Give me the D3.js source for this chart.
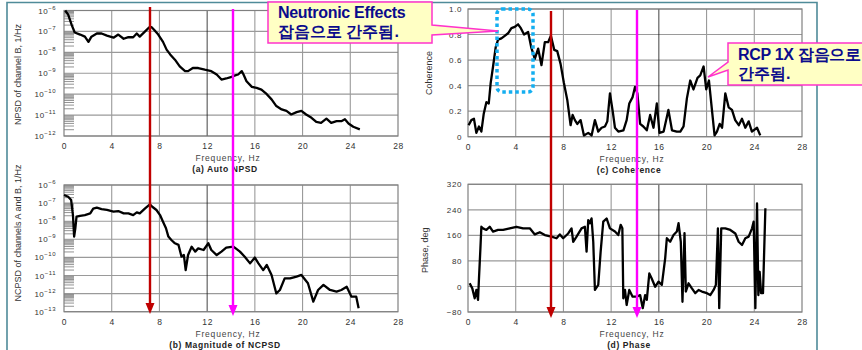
<!DOCTYPE html>
<html>
<head>
<meta charset="utf-8">
<script src="https://cdn.jsdelivr.net/npm/d3@7"></script>
<style>
body { margin: 0; background: #fff; }
svg { display: block; }
text { font-family: "Liberation Sans", Arial, sans-serif; }
</style>
</head>
<body>
<svg id="chart" width="862" height="350"></svg>
<script>
// ---- DATA ---------------------------------------------------------

const freqTicks = [0, 4, 8, 12, 16, 20, 24, 28];

// (a) Auto NPSD of channel B, log10(1/Hz)
const aFreq = [0.1,0.35,0.65,0.9,1.35,1.75,2.05,2.3,2.75,3.15,3.6,4.15,4.55,5.0,5.4,5.8,6.1,6.35,6.8,7.15,7.35,7.55,7.9,8.3,8.6,8.9,9.3,9.7,10.15,10.4,10.8,11.25,11.8,12.35,12.8,13.2,13.6,14.05,14.35,14.6,14.9,15.05,15.3,15.75,16.15,16.55,17.0,17.4,17.8,18.25,18.65,19.05,19.5,19.9,20.3,20.75,21.15,21.55,22.0,22.4,22.85,23.25,23.55,23.85,24.25,24.8];
const aLogNpsd = [-6.0,-6.2,-6.7,-7.05,-7.15,-7.25,-7.5,-7.25,-7.1,-7.1,-7.2,-7.3,-7.15,-7.35,-7.27,-7.28,-7.1,-7.25,-7.0,-6.8,-6.8,-6.92,-7.15,-7.5,-7.87,-8.1,-8.35,-8.67,-8.9,-8.9,-8.75,-8.75,-8.83,-8.9,-9.06,-9.3,-9.25,-9.17,-9.1,-9.06,-8.9,-9.06,-9.38,-9.65,-9.7,-9.78,-10.0,-10.25,-10.57,-10.73,-10.8,-10.97,-10.86,-10.8,-10.97,-11.13,-11.33,-11.37,-11.17,-11.37,-11.29,-11.29,-11.2,-11.4,-11.56,-11.68];

// (b) Magnitude of NCPSD of channels A and B, log10(1/Hz)
const bFreq = [0.0,0.35,0.6,0.75,0.85,0.95,1.05,1.35,1.75,2.2,2.45,2.75,3.15,3.6,4.15,4.55,5.0,5.4,5.8,6.1,6.35,6.8,7.2,7.4,7.75,8.05,8.3,8.55,8.75,9.0,9.3,9.6,9.85,10.05,10.2,10.4,10.7,11.0,11.25,11.7,12.1,12.35,12.8,13.2,13.6,14.2,14.45,14.75,15.15,15.6,16.0,16.3,16.7,17.0,17.4,17.8,18.1,18.5,18.95,19.5,19.9,20.45,20.9,21.3,21.75,22.3,22.85,23.25,23.7,24.1,24.5,24.7];
const bLogNcpsd = [-6.55,-6.65,-6.83,-7.66,-8.85,-8.4,-7.75,-7.7,-7.66,-7.57,-7.3,-7.25,-7.33,-7.38,-7.47,-7.44,-7.57,-7.57,-7.66,-7.51,-7.57,-7.29,-7.07,-7.2,-7.38,-7.66,-8.03,-8.39,-8.85,-9.04,-9.22,-9.31,-9.96,-9.87,-10.7,-9.87,-9.41,-9.68,-9.5,-9.59,-9.22,-9.59,-9.87,-9.68,-9.46,-9.41,-9.53,-9.68,-9.96,-10.33,-10.01,-10.33,-10.7,-10.42,-10.97,-11.99,-11.8,-11.16,-11.16,-11.06,-10.97,-11.43,-12.44,-11.8,-11.52,-11.8,-11.89,-11.8,-11.62,-12.17,-12.17,-12.81];

// (c) Coherence
const cFreq = [0.05,0.28,0.5,0.7,0.92,1.12,1.32,1.54,1.74,1.9,2.1,2.32,2.52,2.8,3.08,3.36,3.64,3.92,4.2,4.43,4.7,5.04,5.3,5.6,5.88,6.16,6.44,6.72,6.95,7.23,7.48,7.76,8.04,8.32,8.6,8.77,8.96,9.16,9.44,9.72,10.08,10.36,10.64,10.92,11.2,11.48,11.68,11.9,12.13,12.32,12.6,13.03,13.3,13.52,13.8,14.0,14.2,14.43,14.7,14.99,15.27,15.55,15.83,16.05,16.4,16.8,17.1,17.5,17.8,18.07,18.35,18.63,18.9,19.24,19.47,19.75,19.97,20.2,20.45,20.67,20.87,21.1,21.3,21.57,21.85,22.13,22.4,22.7,22.97,23.25,23.53,23.8,24.23,24.5];
const cCoherence = [0.09,0.13,0.14,0.03,0.08,0.04,0.18,0.27,0.26,0.42,0.55,0.7,0.76,0.77,0.79,0.81,0.85,0.86,0.88,0.85,0.8,0.82,0.7,0.61,0.69,0.56,0.74,0.74,0.79,0.68,0.67,0.57,0.42,0.29,0.09,0.17,0.13,0.1,0.13,0.01,0.03,0.01,0.13,0.04,0.07,0.08,0.12,0.34,0.2,0.07,0.04,0.05,0.13,0.26,0.31,0.39,0.34,0.1,0.08,0.05,0.17,0.07,0.26,0.03,0.04,0.21,0.05,0.04,0.04,0.08,0.3,0.44,0.37,0.46,0.48,0.55,0.37,0.44,0.21,0.01,0.04,0.1,0.07,0.34,0.23,0.21,0.13,0.09,0.14,0.07,0.12,0.04,0.07,0.01];

// (d) Phase, deg
const dFreq = [0.14,0.36,0.56,0.7,0.84,0.92,1.04,1.12,1.26,1.54,1.82,2.1,2.52,2.94,3.5,4.06,4.62,5.18,5.6,6.02,6.44,7.0,7.42,7.7,7.98,8.4,8.68,8.82,9.1,9.52,9.8,9.94,10.08,10.22,10.36,10.5,10.64,10.92,11.12,11.34,11.62,11.9,12.32,12.6,12.8,12.94,13.02,13.16,13.3,13.52,13.8,14.15,14.43,14.65,14.85,14.99,15.2,15.4,15.69,15.97,16.25,16.53,16.67,16.95,17.23,17.51,17.65,17.84,17.98,18.15,18.26,18.49,18.77,19.05,19.33,19.61,20.03,20.31,20.59,20.78,20.95,21.06,21.23,21.57,21.99,22.41,22.69,22.97,23.25,23.53,23.81,23.95,24.09,24.23,24.34,24.45,24.57,24.73,24.93];
const dPhase = [10,-6,-37,-11,-42,25,119,187,182,177,187,172,177,177,182,187,182,182,163,170,161,156,151,163,151,166,182,140,156,182,187,109,208,198,213,140,-11,5,109,203,213,182,172,161,193,182,-37,-11,-58,-11,-32,-32,-27,-68,-27,-42,41,25,-1,15,5,88,151,140,161,172,198,140,-48,167,-16,10,-6,-21,-11,-16,-21,-27,-11,5,182,-68,182,182,177,166,140,130,151,156,182,203,-68,260,-27,46,-21,-21,245];

const coherenceTicks = [0, 0.2, 0.4, 0.6, 0.8, 1.0];
const phaseTicks = [-80, 0, 80, 160, 240, 320];

// ---- CHART ---------------------------------------------------------

const svg = d3.select("#chart");
const gridColor = "#9a9a9a";
const textColor = "#333";

// slide frame
svg.append("path")
    .attr("d", "M7,352 L7,2.5 L817,2.5 L817,352")
    .attr("fill", "none")
    .attr("stroke", "#4f8b99")
    .attr("stroke-width", 1.6);

function drawPanel(opt) {
    const w = opt.x1 - opt.x0, h = opt.y1 - opt.y0;
    const g = svg.append("g").attr("transform", `translate(${opt.x0},${opt.y0})`);

    const x = d3.scaleLinear().domain([0, 28]).range([0, w]);
    const y = opt.log
        ? d3.scaleLog().domain([Math.pow(10, opt.minExp), Math.pow(10, opt.maxExp)]).range([h, 0])
        : d3.scaleLinear().domain(opt.domain).range([h, 0]);

    // horizontal grid
    const yGrid = opt.log ? d3.range(opt.minExp, opt.maxExp + 1).map(e => Math.pow(10, e)) : opt.yTicks;
    g.selectAll(".hgrid").data(yGrid).enter().append("line")
        .attr("x1", 0).attr("x2", w)
        .attr("y1", d => y(d)).attr("y2", d => y(d))
        .attr("stroke", gridColor).attr("stroke-width", 1.1);

    // vertical grid
    g.selectAll(".vgrid").data(freqTicks.slice(1, -1)).enter().append("line")
        .attr("y1", 0).attr("y2", h)
        .attr("x1", d => x(d)).attr("x2", d => x(d))
        .attr("stroke", d => d === opt.darkLine ? "#111" : gridColor)
        .attr("stroke-width", d => d === opt.darkLine ? 0.8 : 1.1);

    // minor log ticks inside left edge
    if (opt.log) {
        const minors = [];
        for (let e = opt.minExp; e < opt.maxExp; e++)
            for (let k = 2; k <= 9; k++) minors.push(k * Math.pow(10, e));
        g.selectAll(".minor").data(minors).enter().append("line")
            .attr("x1", 0).attr("x2", 10)
            .attr("y1", d => y(d)).attr("y2", d => y(d))
            .attr("stroke", "#777").attr("stroke-width", 0.8);
    }

    // frame
    g.append("rect").attr("width", w).attr("height", h)
        .attr("fill", "none").attr("stroke", "#808080").attr("stroke-width", 1.2);

    // x axis labels
    const xAxis = d3.axisBottom(x).tickValues(freqTicks).tickSize(0).tickPadding(7);
    const xa = g.append("g").attr("transform", `translate(0,${h})`).call(xAxis);
    xa.select(".domain").remove();
    xa.selectAll("text").attr("font-size", 8.5).attr("fill", textColor)
        .attr("font-family", "Liberation Sans, Arial").attr("letter-spacing", 0.6);

    // y axis labels
    if (opt.log) {
        const labels = g.selectAll(".ylab").data(d3.range(opt.minExp, opt.maxExp + 1)).enter()
            .append("text")
            .attr("x", -8).attr("y", d => y(Math.pow(10, d)) + 3)
            .attr("text-anchor", "end")
            .attr("font-size", 8).attr("fill", textColor).attr("letter-spacing", 0.5);
        labels.append("tspan").text("10");
        labels.append("tspan").attr("dy", -4).attr("font-size", 6).text(d => "\u2212" + Math.abs(d));
    } else {
        const yAxis = d3.axisLeft(y).tickValues(opt.yTicks).tickSize(0).tickPadding(6)
            .tickFormat(opt.fmt);
        const ya = g.append("g").call(yAxis);
        ya.select(".domain").remove();
        ya.selectAll("text").attr("font-size", 8).attr("fill", textColor)
            .attr("font-family", "Liberation Sans, Arial").attr("letter-spacing", 0.6);
    }

    // titles
    g.append("text")
        .attr("x", w / 2 - 3).attr("y", h + 25)
        .attr("text-anchor", "middle")
        .attr("font-size", 8.5).attr("fill", "#444").attr("letter-spacing", 0.8)
        .text("Frequency, Hz");
    g.append("text")
        .attr("x", w / 2 - 6).attr("y", h + 36)
        .attr("text-anchor", "middle")
        .attr("font-size", 8.5).attr("font-weight", "bold").attr("fill", "#222").attr("letter-spacing", 0.6)
        .text(opt.caption);
    g.append("text")
        .attr("transform", `translate(${opt.yTitleX},${opt.yTitleY}) rotate(-90)`)
        .attr("text-anchor", "middle")
        .attr("font-size", 9).attr("fill", "#333")
        .attr("font-family", "Liberation Sans Narrow, Liberation Sans, Arial")
        .attr("font-stretch", "condensed")
        .text(opt.yTitle);

    // data line
    const line = d3.line()
        .x(d => x(d[0]))
        .y(d => y(opt.log ? Math.pow(10, d[1]) : d[1]));
    g.append("path")
        .datum(d3.zip(opt.freq, opt.values))
        .attr("d", line)
        .attr("fill", "none")
        .attr("stroke", "#000")
        .attr("stroke-width", 2.3)
        .attr("stroke-linejoin", "round");
}

drawPanel({
    x0: 64, x1: 398, y0: 10.5, y1: 136, log: true, minExp: -12, maxExp: -6,
    freq: aFreq, values: aLogNpsd, darkLine: 12,
    caption: "(a) Auto NPSD", yTitle: "NPSD of channel B, 1/Hz", yTitleX: -43, yTitleY: 64
});
drawPanel({
    x0: 64, x1: 398, y0: 185, y1: 311.7, log: true, minExp: -13, maxExp: -6,
    freq: bFreq, values: bLogNcpsd, darkLine: 12,
    caption: "(b) Magnitude of NCPSD", yTitle: "NCPSD of channels A and B, 1/Hz", yTitleX: -43, yTitleY: 48
});
drawPanel({
    x0: 468, x1: 802, y0: 9, y1: 136.7, log: false, domain: [0, 1],
    yTicks: coherenceTicks, fmt: d => d === 0 ? "0" : d3.format(".1f")(d),
    freq: cFreq, values: cCoherence, darkLine: 16,
    caption: "(c) Coherence", yTitle: "Coherence", yTitleX: -36, yTitleY: 64
});
drawPanel({
    x0: 468, x1: 802, y0: 184.3, y1: 312, log: false, domain: [-80, 320],
    yTicks: phaseTicks, fmt: d => d < 0 ? "\u2212" + Math.abs(d) : d,
    freq: dFreq, values: dPhase, darkLine: 16,
    caption: "(d) Phase", yTitle: "Phase, deg", yTitleX: -40, yTitleY: 66
});

// ---- annotations ---------------------------------------------------

function arrow(x, yTop, yTip, color) {
    svg.append("line")
        .attr("x1", x).attr("x2", x).attr("y1", yTop).attr("y2", yTip - 8)
        .attr("stroke", color).attr("stroke-width", 2.4);
    svg.append("path")
        .attr("d", `M${x - 4.5},${yTip - 11} L${x + 4.5},${yTip - 11} L${x},${yTip} Z`)
        .attr("fill", color);
}
arrow(150, 7, 314, "#c00000");
arrow(233, 9, 316, "#ff00ff");
arrow(551, 11, 318, "#c00000");
arrow(637, 10, 318, "#ff00ff");

// dotted highlight around the coherence peak
svg.append("rect")
    .attr("x", 497).attr("y", 9).attr("width", 36).attr("height", 83)
    .attr("rx", 5)
    .attr("fill", "none").attr("stroke", "#14aef0").attr("stroke-width", 3.5)
    .attr("stroke-dasharray", "3.5,3");

const calloutFill = "#ffffc4", calloutStroke = "#ff33cc", calloutText = "#0b0b8c";

svg.append("path")
    .attr("d", "M268,2 L432,2 L432,25 L498,31 L432,35 L432,43 L268,43 Z")
    .attr("fill", calloutFill).attr("stroke", calloutStroke).attr("stroke-width", 1.5);
svg.append("text").attr("x", 278).attr("y", 18)
    .attr("font-family", "Noto Sans CJK KR, Noto Sans").attr("font-weight", "bold")
    .attr("font-size", 16).attr("fill", calloutText).attr("letter-spacing", -0.3)
    .text("Neutronic Effects");
svg.append("text").attr("x", 278).attr("y", 37)
    .attr("font-family", "Noto Sans CJK KR").attr("font-weight", "bold")
    .attr("font-size", 16).attr("fill", calloutText)
    .text("잡음으로 간주됨.");

svg.append("path")
    .attr("d", "M728,43 L870,43 L870,85 L728,85 L728,70 L708,77 L728,62 Z")
    .attr("fill", calloutFill).attr("stroke", calloutStroke).attr("stroke-width", 1.5);
svg.append("text").attr("x", 738).attr("y", 60)
    .attr("font-family", "Noto Sans CJK KR").attr("font-weight", "bold")
    .attr("font-size", 16).attr("fill", calloutText).attr("letter-spacing", -0.3)
    .text("RCP 1X 잡음으로");
svg.append("text").attr("x", 738).attr("y", 79)
    .attr("font-family", "Noto Sans CJK KR").attr("font-weight", "bold")
    .attr("font-size", 16).attr("fill", calloutText)
    .text("간주됨.");
</script>
</body>
</html>
